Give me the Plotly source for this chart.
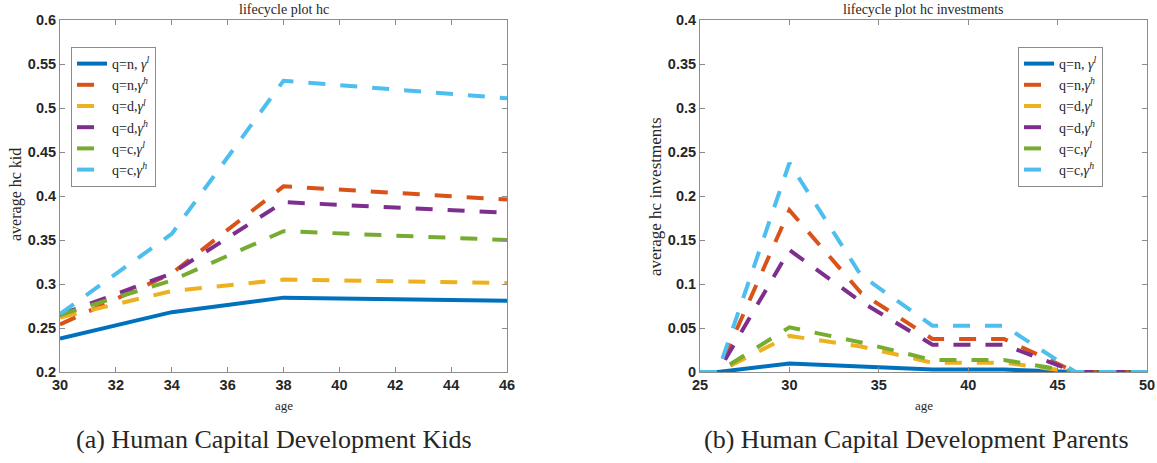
import plotly.graph_objects as go

# ---------------- data ----------------
series_names = ["q=n, <i>γ</i><sup><i>l</i></sup>", "q=n,<i>γ</i><sup><i>h</i></sup>",
                "q=d,<i>γ</i><sup><i>l</i></sup>", "q=d,<i>γ</i><sup><i>h</i></sup>",
                "q=c,<i>γ</i><sup><i>l</i></sup>", "q=c,<i>γ</i><sup><i>h</i></sup>"]

age_kids = [30, 34, 38, 46]
hc_n_l = [0.238, 0.268, 0.2845, 0.281]
hc_n_h = [0.254, 0.312, 0.411, 0.396]
hc_d_l = [0.262, 0.292, 0.305, 0.301]
hc_d_h = [0.265, 0.312, 0.393, 0.381]
hc_c_l = [0.265, 0.304, 0.360, 0.350]
hc_c_h = [0.266, 0.357, 0.531, 0.511]

age_par = [25, 26, 30, 34, 38, 42, 46, 50]
inv_n_l = [0, 0, 0.0097, 0.0058, 0.0027, 0.0027, 0, 0]
inv_n_h = [0, 0, 0.184, 0.090, 0.0376, 0.0376, 0, 0]
inv_d_l = [0, 0, 0.041, 0.029, 0.0105, 0.0105, 0, 0]
inv_d_h = [0, 0, 0.1386, 0.080, 0.031, 0.031, 0, 0]
inv_c_l = [0, 0, 0.0508, 0.0337, 0.0136, 0.0136, 0, 0]
inv_c_h = [0, 0, 0.2375, 0.110, 0.0526, 0.0526, 0, 0]

kid_ticks = [0.2, 0.25, 0.3, 0.35, 0.4, 0.45, 0.5, 0.55, 0.6]
kid_tick_text = ["0.2", "0.25", "0.3", "0.35", "0.4", "0.45", "0.5", "0.55", "0.6"]
par_ticks = [0, 0.05, 0.1, 0.15, 0.2, 0.25, 0.3, 0.35, 0.4]
par_tick_text = ["0", "0.05", "0.1", "0.15", "0.2", "0.25", "0.3", "0.35", "0.4"]

colors = ["#0072BD", "#D95319", "#EDB120", "#7E2F8E", "#77AC30", "#4DBEEE"]
dashes = ["solid", "17px,15px", "17px,15px", "17px,15px", "17px,15px", "17px,15px"]

W, H = 1157, 463
fig = go.Figure()

kids = [hc_n_l, hc_n_h, hc_d_l, hc_d_h, hc_c_l, hc_c_h]
pars = [inv_n_l, inv_n_h, inv_d_l, inv_d_h, inv_c_l, inv_c_h]

for i, ys in enumerate(kids):
    fig.add_trace(go.Scatter(x=age_kids, y=ys, mode="lines", name=series_names[i],
                             line=dict(color=colors[i], width=4, dash=dashes[i]),
                             xaxis="x", yaxis="y", legend="legend"))
for i, ys in enumerate(pars):
    fig.add_trace(go.Scatter(x=age_par, y=ys, mode="lines", name=series_names[i],
                             line=dict(color=colors[i], width=4, dash=dashes[i]),
                             xaxis="x2", yaxis="y2", legend="legend2"))

def px_x(p):
    return p / W

def px_y(p):
    return 1 - p / H

ydom = [px_y(372), px_y(20)]
tickfont = dict(family="Liberation Sans, Arial, sans-serif", size=14.5, color="#262626", weight="bold")
axis_common = dict(showgrid=False, zeroline=False, showline=True, linecolor="#8c8c8c", linewidth=1,
                   mirror="allticks", ticks="inside", ticklen=5, tickcolor="#8c8c8c",
                   tickfont=tickfont, automargin=False)

legend_font = dict(family="Liberation Serif, Times New Roman, serif", size=14, color="#262626")

fig.update_layout(
    width=W, height=H, margin=dict(l=0, r=0, t=0, b=0, autoexpand=False),
    paper_bgcolor="white", plot_bgcolor="white",
    xaxis=dict(domain=[px_x(60), px_x(507)], range=[30, 46], tickvals=list(range(30, 47, 2)),
               anchor="y", **axis_common),
    yaxis=dict(domain=ydom, range=[0.2, 0.6], tickvals=kid_ticks, ticktext=kid_tick_text,
               anchor="x", **axis_common),
    xaxis2=dict(domain=[px_x(700), px_x(1147)], range=[25, 50], tickvals=list(range(25, 51, 5)),
                anchor="y2", **axis_common),
    yaxis2=dict(domain=ydom, range=[0, 0.4], tickvals=par_ticks, ticktext=par_tick_text,
                anchor="x2", **axis_common),
    legend=dict(x=px_x(71), y=px_y(47), xanchor="left", yanchor="top",
                bordercolor="#8c8c8c", borderwidth=1, bgcolor="white",
                font=legend_font, tracegroupgap=0, itemwidth=30),
    legend2=dict(x=px_x(1018), y=px_y(47), xanchor="left", yanchor="top",
                 bordercolor="#8c8c8c", borderwidth=1, bgcolor="white",
                 font=legend_font, tracegroupgap=0, itemwidth=30),
    showlegend=True,
)

serif = "Liberation Serif, Times New Roman, serif"
annos = [
    dict(text="lifecycle plot hc", x=(px_x(60) + px_x(507)) / 2, y=px_y(9), size=14),
    dict(text="lifecycle plot hc investments", x=(px_x(700) + px_x(1147)) / 2, y=px_y(9), size=14),
    dict(text="age", x=(px_x(60) + px_x(507)) / 2, y=px_y(405), size=13),
    dict(text="age", x=(px_x(700) + px_x(1147)) / 2, y=px_y(405), size=13),
    dict(text="(a) Human Capital Development Kids", x=px_x(274), y=px_y(439), size=26),
    dict(text="(b) Human Capital Development Parents", x=px_x(916), y=px_y(439), size=26),
]
for a in annos:
    fig.add_annotation(text=a["text"], x=a["x"], y=a["y"], xref="paper", yref="paper",
                       showarrow=False, xanchor="center", yanchor="middle",
                       font=dict(family=serif, size=a["size"], color="#262626"))

fig.add_annotation(text="average hc kid", x=px_x(16), y=px_y(195), xref="paper", yref="paper",
                   showarrow=False, textangle=-90, xanchor="center", yanchor="middle",
                   font=dict(family=serif, size=16, color="#262626"))
fig.add_annotation(text="average hc investments", x=px_x(656), y=px_y(197), xref="paper", yref="paper",
                   showarrow=False, textangle=-90, xanchor="center", yanchor="middle",
                   font=dict(family=serif, size=17, color="#262626"))

fig.write_html("out.html")
